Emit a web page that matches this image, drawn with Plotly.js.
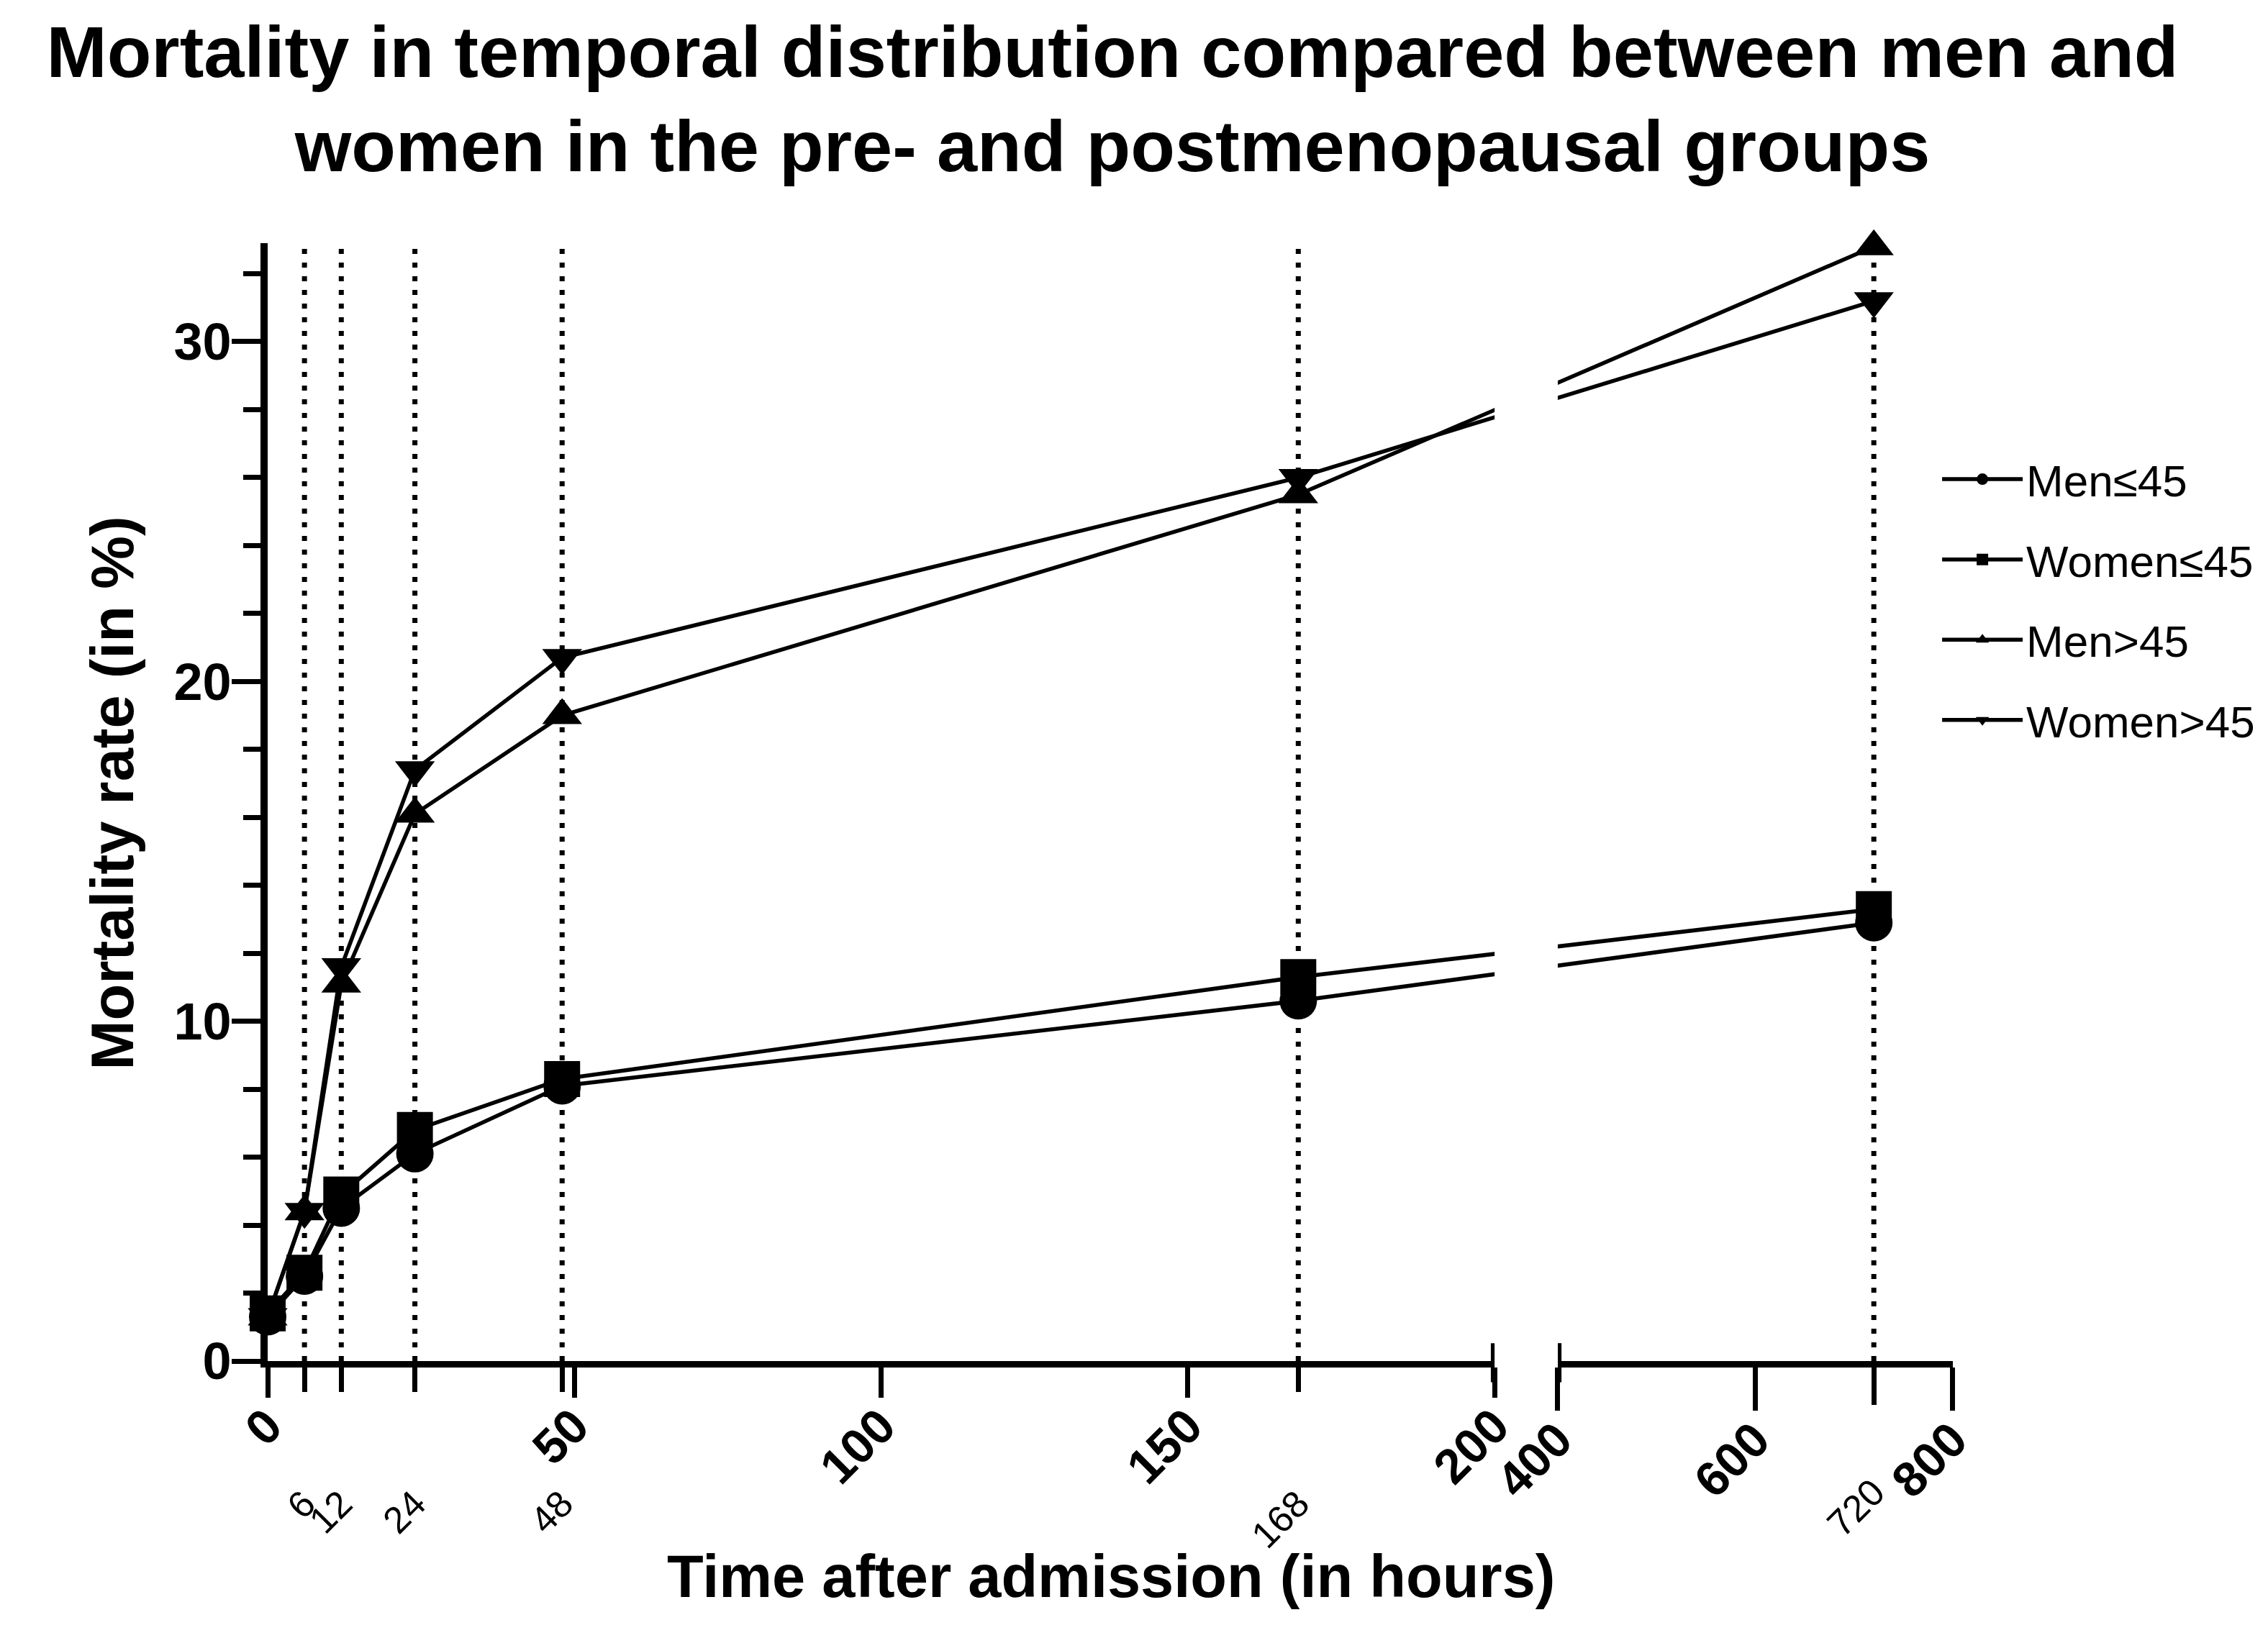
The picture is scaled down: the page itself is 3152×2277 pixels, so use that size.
<!DOCTYPE html>
<html>
<head>
<meta charset="utf-8">
<script src="https://cdn.plot.ly/plotly-3.0.1.min.js"></script>
<style>
html, body { margin: 0; padding: 0; background: #fff; }
#chart { width: 3152px; height: 2277px; }
</style>
</head>
<body>
<div id="chart"></div>
<script>
// mortality (%), one value per time point
var hours = [0, 6, 12, 24, 48, 168, 720];
var menUnder45 = [1.3, 2.5, 4.5, 6.1, 8.1, 10.6, 12.9];
var womenUnder45 = [1.4, 2.6, 4.9, 6.8, 8.3, 11.3, 13.3];
var menOver45 = [1.3, 4.4, 11.1, 16.1, 19.0, 25.5, 32.8];
var womenOver45 = [1.3, 4.4, 11.6, 17.4, 20.7, 26.0, 31.2];

var seriesNames = ["Men≤45", "Women≤45", "Men>45", "Women>45"];
var seriesSymbols = ["circle", "square", "triangle-up", "triangle-down"];

var leftTicks = [0, 50, 100, 150, 200];
var rightTicks = [400, 600, 800];
var leftMarkedHours = [6, 12, 24, 48, 168];
var rightMarkedHours = [720];
var yTicks = [0, 10, 20, 30];

// broken x axis: 0-200 on the left, 400-800 squeezed on the right
var leftEnd = 200, rightStart = 400, rightEnd = 800;
var gapWidth = 10.3;
var rightScale = 0.161;

function brokenX(h)
{
    return h <= leftEnd ? h : leftEnd + gapWidth + (h - rightStart) * rightScale;
}

var fullEnd = brokenX(rightEnd);
var leftDomainEnd = leftEnd / fullEnd;
var rightDomainStart = brokenX(rightStart) / fullEnd;

var fontFamily = "Liberation Sans, Arial, Helvetica, sans-serif";
var black = "#000";

var seriesValues = [menUnder45, womenUnder45, menOver45, womenOver45];
var markerSizes = [52, 50, 48, 48];

var traces = seriesValues.map(function (values, i)
{
    return {
        x: hours.map(brokenX),
        y: values,
        name: seriesNames[i],
        type: "scatter",
        mode: "lines+markers",
        xaxis: "x",
        yaxis: "y",
        cliponaxis: false,
        legendgroup: "g" + i,
        line: { color: black, width: 5.5 },
        marker: { symbol: seriesSymbols[i], size: markerSizes[i], color: black }
    };
});

var majorTickFont = { family: fontFamily, size: 68, color: black, weight: "bold" };
var minorTickFont = { family: fontFamily, size: 52, color: black };

function segmentAxis(domain, range, tickvals, ticklen, standoff, font, line)
{
    return {
        domain: domain,
        anchor: "y",
        range: range,
        tickmode: "array",
        tickvals: tickvals,
        ticks: "outside",
        ticklen: ticklen,
        tickwidth: 7,
        tickcolor: black,
        tickangle: -45,
        tickfont: font,
        ticklabelstandoff: standoff,
        showline: line,
        linewidth: 9,
        linecolor: black,
        showgrid: false,
        zeroline: false,
        fixedrange: true
    };
}

var shapes = [];

// dotted guide lines at the marked time points
function markLine(xref, h)
{
    return { type: "line", xref: xref, yref: "paper", x0: h, x1: h, y0: 0, y1: 1,
        layer: "below", line: { color: black, width: 7, dash: "7px,12px" } };
}

leftMarkedHours.forEach(function (h) { shapes.push(markLine("x3", h)); });
rightMarkedHours.forEach(function (h) { shapes.push(markLine("x5", h)); });

// blank the lines inside the axis break
shapes.push({ type: "rect", xref: "x", yref: "y", x0: leftEnd, x1: brokenX(rightStart), y0: 2, y1: 40,
    layer: "above", fillcolor: "#fff", line: { width: 0 } });

// end caps of the two axis segments
shapes.push({ type: "line", xref: "x2", yref: "paper", x0: leftEnd - 0.2, x1: leftEnd - 0.2, y0: -0.019, y1: 0.016,
    line: { color: black, width: 7 } });
shapes.push({ type: "line", xref: "x4", yref: "paper", x0: rightStart + 1.2, x1: rightStart + 1.2, y0: -0.019, y1: 0.016,
    line: { color: black, width: 7 } });

var layout = {
    width: 3152,
    height: 2277,
    paper_bgcolor: "#fff",
    plot_bgcolor: "rgba(0,0,0,0)",
    margin: { l: 372, r: 438, t: 338, b: 385, pad: 0 },
    font: { family: fontFamily, color: black },
    title: {
        text: "Mortality in temporal distribution compared between men and<br>women in the pre- and postmenopausal groups",
        x: 0.4905,
        xanchor: "center",
        xref: "container",
        y: 0.953,
        yanchor: "top",
        yref: "container",
        font: { family: fontFamily, size: 101, color: black, weight: "bold" }
    },
    showlegend: true,
    legend: {
        x: 0.9915,
        y: 0.819,
        xanchor: "left",
        yanchor: "top",
        bgcolor: "rgba(0,0,0,0)",
        font: { family: fontFamily, size: 62, color: black },
        itemwidth: 112,
        tracegroupgap: 28
    },
    xaxis: {
        domain: [0, 1],
        anchor: "y",
        range: [0, fullEnd],
        visible: false,
        showgrid: false,
        zeroline: false,
        fixedrange: true
    },
    xaxis2: segmentAxis([0, leftDomainEnd], [0, leftEnd], leftTicks, 42, -28, majorTickFont, true),
    xaxis3: segmentAxis([0, leftDomainEnd], [0, leftEnd], leftMarkedHours, 42, 104, minorTickFont, false),
    xaxis4: segmentAxis([rightDomainStart, 1], [rightStart, rightEnd], rightTicks, 60, -27, majorTickFont, true),
    xaxis5: segmentAxis([rightDomainStart, 1], [rightStart, rightEnd], rightMarkedHours, 60, 70, minorTickFont, false),
    yaxis: {
        domain: [0, 1],
        anchor: "x",
        range: [0, 32.9],
        tickmode: "array",
        tickvals: yTicks,
        ticks: "outside",
        ticklen: 40,
        tickwidth: 7,
        tickcolor: black,
        tickfont: { family: fontFamily, size: 72, color: black, weight: "bold" },
        ticklabelstandoff: -14,
        minor: { dtick: 2, ticks: "outside", ticklen: 24, tickwidth: 7, tickcolor: black, showgrid: false },
        showline: true,
        linewidth: 10,
        linecolor: black,
        showgrid: false,
        zeroline: false,
        fixedrange: true
    },
    annotations: [
        {
            text: "Mortality rate (in %)",
            xref: "paper", yref: "paper",
            x: -0.0918, y: 0.508,
            xanchor: "center", yanchor: "middle",
            textangle: -90,
            showarrow: false,
            font: { family: fontFamily, size: 83, color: black, weight: "bold" }
        },
        {
            text: "Time after admission (in hours)",
            xref: "paper", yref: "paper",
            x: 0.5004, y: -0.193,
            xanchor: "center", yanchor: "middle",
            showarrow: false,
            font: { family: fontFamily, size: 83, color: black, weight: "bold" }
        }
    ],
    shapes: shapes
};

Plotly.newPlot("chart", traces, layout, { displayModeBar: false, staticPlot: true });
</script>
</body>
</html>
